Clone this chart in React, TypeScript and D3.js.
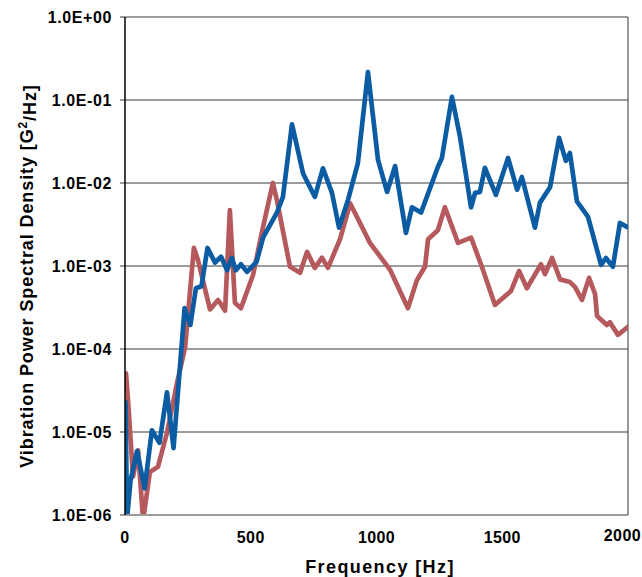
import React from "react";
import * as d3 from "d3";

// Frequency (Hz) and PSD (G^2/Hz) for the two measured responses
const blueFreq = [2, 8, 22, 48, 78, 107, 137, 167, 193, 237, 260, 282, 304, 328, 358, 382, 406, 425, 441, 461, 485, 523, 549, 604, 628, 664, 708, 755, 787, 823, 851, 887, 926, 966, 1006, 1042, 1074, 1117, 1141, 1177, 1244, 1260, 1300, 1332, 1376, 1392, 1411, 1431, 1475, 1523, 1559, 1578, 1630, 1650, 1690, 1726, 1753, 1769, 1797, 1841, 1893, 1912, 1940, 1968, 1996];
const bluePsd = [2.3e-5, 9e-7, 2.6e-6, 5.9e-6, 2.1e-6, 1.05e-5, 7.4e-6, 3.0e-5, 6.4e-6, 3.1e-4, 1.95e-4, 5.4e-4, 5.7e-4, 1.65e-3, 1.1e-3, 1.29e-3, 8.9e-4, 1.25e-3, 8.9e-4, 1.05e-3, 8.5e-4, 1.12e-3, 2.2e-3, 4.4e-3, 6.8e-3, 5.1e-2, 1.3e-2, 6.8e-3, 1.5e-2, 7.6e-3, 2.9e-3, 6.3e-3, 1.74e-2, 0.217, 1.9e-2, 7.8e-3, 1.6e-2, 2.5e-3, 5.1e-3, 4.4e-3, 1.56e-2, 2.0e-2, 0.109, 3.6e-2, 5.1e-3, 7.6e-3, 7.8e-3, 1.52e-2, 7.2e-3, 2.0e-2, 8.3e-3, 1.18e-2, 2.9e-3, 5.8e-3, 8.9e-3, 3.5e-2, 1.85e-2, 2.3e-2, 6.0e-3, 3.9e-3, 1.03e-3, 1.25e-3, 9.8e-4, 3.3e-3, 2.95e-3];

const redFreq = [4, 12, 32, 52, 72, 99, 131, 167, 207, 239, 274, 290, 338, 370, 398, 417, 437, 461, 509, 545, 588, 604, 656, 696, 724, 755, 783, 807, 855, 895, 974, 1054, 1125, 1161, 1193, 1205, 1244, 1272, 1324, 1376, 1419, 1471, 1535, 1567, 1598, 1654, 1670, 1698, 1730, 1769, 1789, 1817, 1845, 1869, 1877, 1916, 1928, 1960, 2000];
const redPsd = [5.1e-5, 2.4e-5, 2.9e-6, 6.0e-6, 8.7e-7, 3.3e-6, 3.8e-6, 9.8e-6, 3.9e-5, 1.05e-4, 1.65e-3, 1.18e-3, 3.0e-4, 3.9e-4, 2.9e-4, 4.7e-3, 3.6e-4, 3.1e-4, 7.8e-4, 2.6e-3, 1.0e-2, 6.2e-3, 9.8e-4, 8.3e-4, 1.48e-3, 9.5e-4, 1.26e-3, 9.5e-4, 2.1e-3, 5.7e-3, 1.9e-3, 9.0e-4, 3.1e-4, 6.8e-4, 9.8e-4, 2.1e-3, 2.7e-3, 5.1e-3, 1.9e-3, 2.2e-3, 9.8e-4, 3.4e-4, 5.0e-4, 8.7e-4, 5.4e-4, 1.05e-3, 8.0e-4, 1.25e-3, 6.9e-4, 6.4e-4, 5.6e-4, 3.9e-4, 7.2e-4, 4.6e-4, 2.5e-4, 1.95e-4, 2.1e-4, 1.48e-4, 1.85e-4];

const xTicks = [0, 500, 1000, 1500, 2000];
const yTicks = [1e0, 1e-1, 1e-2, 1e-3, 1e-4, 1e-5, 1e-6];
const yTickLabels = ["1.0E+00", "1.0E-01", "1.0E-02", "1.0E-03", "1.0E-04", "1.0E-05", "1.0E-06"];

const W = 642;
const H = 577;
const plot = { left: 125, right: 628, top: 17, bottom: 515 };
const FONT = "'Liberation Sans', Arial, sans-serif";

export default function App() {
  const x = d3.scaleLinear().domain([0, 2000]).range([plot.left, plot.right]);
  const y = d3.scaleLog().domain([1e-6, 1]).range([plot.bottom, plot.top]);

  const line = d3
    .line<[number, number]>()
    .x((d) => x(d[0]))
    .y((d) => y(d[1]));

  const bluePts = blueFreq.map((f, i) => [f, bluePsd[i]] as [number, number]);
  const redPts = redFreq.map((f, i) => [f, redPsd[i]] as [number, number]);

  return (
    <svg
      width={W}
      height={H}
      style={{ position: "absolute", left: 0, top: 0, background: "#fff" }}
      fontFamily={FONT}
    >
      <defs>
        <clipPath id="plotClip">
          <rect
            x={plot.left}
            y={plot.top - 4}
            width={plot.right - plot.left}
            height={plot.bottom - plot.top + 3}
          />
        </clipPath>
      </defs>

      {/* horizontal gridlines at each decade */}
      {yTicks.map((t) => (
        <line
          key={"g" + t}
          x1={plot.left - 5}
          x2={plot.right}
          y1={y(t)}
          y2={y(t)}
          stroke="#3a3a3a"
          strokeWidth={1.2}
        />
      ))}

      {/* right border */}
      <line x1={plot.right} x2={plot.right} y1={plot.top} y2={plot.bottom} stroke="#555" strokeWidth={1.2} />

      {/* data series */}
      <g clipPath="url(#plotClip)" fill="none" strokeWidth={4.7} strokeLinejoin="round" strokeLinecap="round">
        <path d={line(redPts) || ""} stroke="#B5595C" />
        <path d={line(bluePts) || ""} stroke="#0B5CA3" />
      </g>

      {/* y axis */}
      <line x1={plot.left} x2={plot.left} y1={plot.top} y2={plot.bottom} stroke="#000" strokeWidth={1.5} />

      {/* y tick labels */}
      {yTicks.map((t, i) => (
        <text
          key={"yl" + t}
          x={112}
          y={y(t)}
          dy="0.35em"
          textAnchor="end"
          fontSize={16}
          letterSpacing={0.6}
          fontWeight="bold"
          fill="#000"
        >
          {yTickLabels[i]}
        </text>
      ))}

      {/* x tick labels; the last one sits flush with the right edge */}
      {xTicks.map((t, i) => {
        const last = i === xTicks.length - 1;
        return (
          <text
            key={"xl" + t}
            x={last ? 641 : x(t)}
            y={last ? 535 : 537}
            dy="0.35em"
            textAnchor={last ? "end" : "middle"}
            fontSize={16}
            letterSpacing={0.4}
            fontWeight="bold"
            fill="#000"
          >
            {t}
          </text>
        );
      })}

      {/* axis titles */}
      <text
        x={380}
        y={567}
        dy="0.35em"
        textAnchor="middle"
        fontSize={18}
        letterSpacing={1.4}
        fontWeight="bold"
        fill="#000"
      >
        Frequency [Hz]
      </text>
      <text
        transform={`translate(27, 276) rotate(-90)`}
        dy="0.35em"
        textAnchor="middle"
        fontSize={18}
        letterSpacing={0.9}
        fontWeight="bold"
        fill="#000"
      >
        Vibration Power Spectral Density [G
        <tspan fontSize={12} dy="-0.5em">2</tspan>
        <tspan dy="0.5em">/Hz]</tspan>
      </text>
    </svg>
  );
}
